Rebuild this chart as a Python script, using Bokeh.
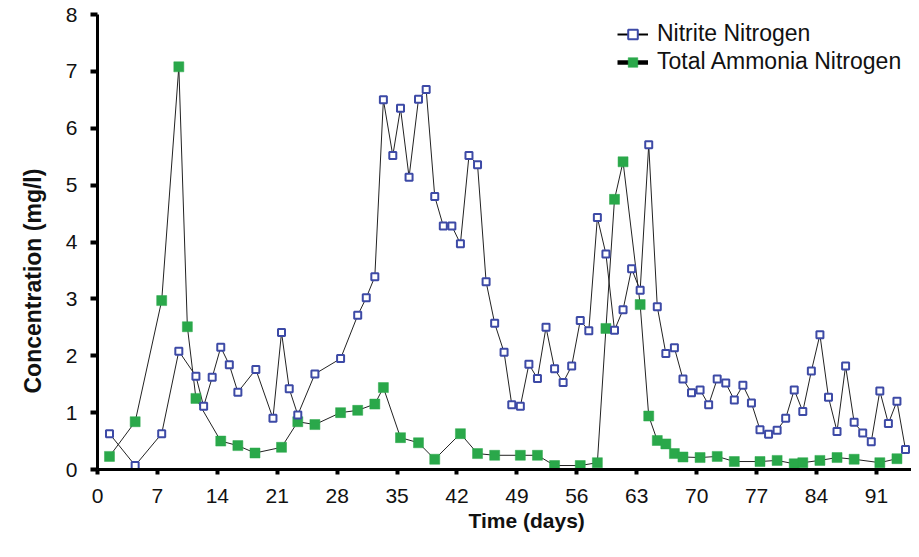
from bokeh.plotting import figure
from bokeh.models import Range1d, FixedTicker, Legend, LegendItem, Title
from bokeh.embed import file_html
from bokeh.resources import INLINE

# ---- data ----
nitrite_days = [1.4, 4.4, 7.5, 9.5, 11.5, 12.4, 13.4, 14.4, 15.4, 16.4, 18.5, 20.5, 21.5, 22.4, 23.4,
                25.4, 28.4, 30.4, 31.4, 32.4, 33.4, 34.5, 35.4, 36.4, 37.5, 38.4, 39.4, 40.4, 41.4,
                42.4, 43.4, 44.4, 45.4, 46.4, 47.5, 48.4, 49.4, 50.4, 51.4, 52.4, 53.4, 54.4, 55.4,
                56.4, 57.4, 58.4, 59.4, 60.4, 61.4, 62.4, 63.4, 64.4, 65.4, 66.4, 67.4, 68.4, 69.4,
                70.4, 71.4, 72.4, 73.4, 74.4, 75.4, 76.4, 77.4, 78.4, 79.4, 80.4, 81.4, 82.4, 83.4,
                84.4, 85.4, 86.4, 87.4, 88.4, 89.4, 90.4, 91.4, 92.4, 93.4, 94.4]
nitrite_vals = [0.63, 0.07, 0.63, 2.08, 1.64, 1.11, 1.62, 2.15, 1.84, 1.36, 1.76, 0.90, 2.41, 1.42, 0.96,
                1.68, 1.95, 2.71, 3.02, 3.39, 6.50, 5.52, 6.35, 5.14, 6.51, 6.68, 4.80, 4.28, 4.28,
                3.97, 5.52, 5.36, 3.30, 2.57, 2.06, 1.14, 1.11, 1.85, 1.60, 2.50, 1.77, 1.53, 1.82,
                2.62, 2.44, 4.43, 3.79, 2.45, 2.81, 3.53, 3.15, 5.71, 2.86, 2.04, 2.14, 1.59, 1.35,
                1.40, 1.14, 1.59, 1.52, 1.22, 1.48, 1.17, 0.70, 0.62, 0.69, 0.90, 1.40, 1.02, 1.73,
                2.37, 1.27, 0.67, 1.82, 0.83, 0.64, 0.49, 1.38, 0.81, 1.20, 0.35]

ammonia_days = [1.4, 4.4, 7.5, 9.5, 10.5, 11.5, 14.4, 16.4, 18.4, 21.5, 23.4, 25.4, 28.4, 30.4, 32.4,
                33.4, 35.4, 37.5, 39.4, 42.4, 44.4, 46.4, 49.4, 51.4, 53.4, 56.4, 58.4, 59.4, 60.4,
                61.4, 63.4, 64.4, 65.4, 66.4, 67.4, 68.4, 70.4, 72.4, 74.4, 77.4, 79.4, 81.4, 82.4,
                84.4, 86.4, 88.4, 91.4, 93.4]
ammonia_vals = [0.23, 0.84, 2.97, 7.08, 2.51, 1.25, 0.50, 0.42, 0.29, 0.39, 0.84, 0.79, 1.00, 1.04, 1.15,
                1.44, 0.56, 0.47, 0.18, 0.63, 0.28, 0.25, 0.25, 0.25, 0.07, 0.07, 0.12, 2.48, 4.75,
                5.41, 2.90, 0.94, 0.51, 0.45, 0.28, 0.22, 0.21, 0.23, 0.14, 0.14, 0.16, 0.10, 0.12,
                0.16, 0.21, 0.18, 0.12, 0.19]

x_ticks = [0, 7, 14, 21, 28, 35, 42, 49, 56, 63, 70, 77, 84, 91]
y_ticks = [0, 1, 2, 3, 4, 5, 6, 7, 8]
x_title = "Time (days)"
y_title = "Concentration (mg/l)"

BLUE = "#3d4aa6"
GREEN = "#2aa84a"
FONT = "Liberation Sans"

p = figure(width=911, height=541, x_range=Range1d(0, 95.1), y_range=Range1d(0, 8),
           output_backend="svg", toolbar_location=None,
           min_border_left=97, min_border_right=0, min_border_top=14, min_border_bottom=72)
p.outline_line_color = None
p.xgrid.grid_line_color = None
p.ygrid.grid_line_color = None
p.background_fill_color = "white"

# connecting lines
p.line(nitrite_days, nitrite_vals, line_color="#222222", line_width=1)
p.line(ammonia_days, ammonia_vals, line_color="#222222", line_width=1)

g = p.scatter(ammonia_days, ammonia_vals, marker="square", size=10,
              fill_color=GREEN, line_color=GREEN, line_width=0.5)
b = p.scatter(nitrite_days, nitrite_vals, marker="square", size=7,
              fill_color="white", line_color=BLUE, line_width=2)

# legend-only line glyphs (kept outside the visible range)
lb = p.line([-20, -19], [-5, -5], line_color="black", line_width=2)
lg = p.line([-20, -19], [-5, -5], line_color="black", line_width=4.5)

legend = Legend(items=[LegendItem(label="Nitrite Nitrogen", renderers=[lb, b]),
                       LegendItem(label="Total Ammonia Nitrogen", renderers=[lg, g])],
                location=(520, 394), padding=0, margin=0, spacing=1,
                glyph_width=31, glyph_height=24, label_height=24, label_standoff=9,
                label_text_font=FONT, label_text_font_size="23px", label_text_color="#111111",
                border_line_color=None, background_fill_alpha=0)
p.add_layout(legend)

for ax in (p.xaxis[0], p.yaxis[0]):
    ax.axis_line_width = 3
    ax.axis_line_color = "black"
    ax.major_tick_line_color = "black"
    ax.minor_tick_line_color = None
    ax.major_tick_in = 0
    ax.major_label_text_font = FONT
    ax.major_label_text_font_size = "21px"
    ax.major_label_text_color = "#111111"

p.xaxis.ticker = FixedTicker(ticks=x_ticks)
p.yaxis.ticker = FixedTicker(ticks=y_ticks)
p.xaxis.major_tick_out = 5
p.xaxis.major_tick_line_width = 4
p.yaxis.major_tick_out = 7
p.yaxis.major_tick_line_width = 4
p.xaxis.major_label_standoff = 14
p.yaxis.major_label_standoff = 13

# axis titles as side-panel titles so they can be offset like the reference
p.add_layout(Title(text=x_title, align="left", offset=371, standoff=3,
                   text_font=FONT, text_font_style="bold", text_font_size="21px",
                   text_color="#111111"), "below")
p.add_layout(Title(text=y_title, align="left", offset=76, standoff=30, vertical_align="top",
                   text_font=FONT, text_font_style="bold", text_font_size="23px",
                   text_color="#111111"), "left")

open("out.html", "w").write(file_html(p, INLINE))
